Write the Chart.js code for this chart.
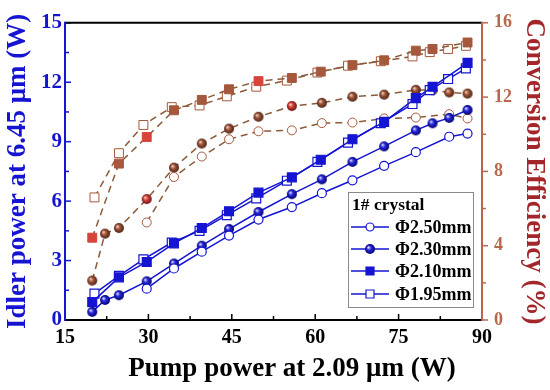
<!DOCTYPE html>
<html><head><meta charset="utf-8">
<script src="https://cdn.jsdelivr.net/npm/chart.js@4"></script>
<style>html,body{margin:0;padding:0;background:#fff}</style>
</head><body>
<canvas id="c" width="550" height="390"></canvas>
<script>
// ---- data ----
const seriesLabels = ['Φ2.50mm', 'Φ2.30mm', 'Φ2.10mm', 'Φ1.95mm'];
const legendTitle = '1# crystal';
const xTicks = [15, 30, 45, 60, 75, 90];
const yTicks = [0, 3, 6, 9, 12, 15];
const y2Ticks = [0, 4, 8, 12, 16];

const pump250 = [29.7, 34.6, 39.6, 44.5, 49.8, 55.8, 61.2, 66.7, 72.4, 78.1, 84.1, 87.4];
const idler250 = [1.58, 2.6, 3.45, 4.26, 5.07, 5.7, 6.4, 7.05, 7.78, 8.47, 9.25, 9.41];
const eff250 = [5.25, 7.7, 8.8, 9.73, 10.16, 10.21, 10.6, 10.63, 10.85, 10.9, 11.08, 10.85];

const pump230 = [19.9, 22.2, 24.7, 29.7, 34.6, 39.6, 44.5, 49.8, 55.8, 61.2, 66.7, 72.4, 78.1, 81.1, 84.1, 87.4];
const idler230 = [0.41, 1.01, 1.25, 1.95, 2.85, 3.75, 4.59, 5.45, 6.35, 7.1, 7.98, 8.76, 9.57, 9.93, 10.2, 10.6];
const eff230 = [2.12, 4.65, 4.95, 6.51, 8.2, 9.5, 10.3, 10.94, 11.52, 11.69, 12.02, 12.13, 12.39, 12.37, 12.25, 12.19];

const pump210 = [19.9, 24.7, 29.7, 34.6, 39.6, 44.5, 49.8, 55.8, 61.0, 66.7, 72.4, 78.1, 81.1, 87.4];
const idler210 = [0.9, 2.15, 2.93, 3.87, 4.64, 5.49, 6.43, 7.2, 8.09, 9.12, 10.0, 11.2, 11.77, 12.98];
const eff210 = [4.43, 8.42, 9.85, 11.29, 11.85, 12.42, 12.86, 13.03, 13.37, 13.72, 13.98, 14.5, 14.59, 14.94];

const pump195 = [20.3, 24.7, 29.1, 34.2, 39.2, 44.1, 49.4, 54.9, 60.4, 65.9, 71.8, 77.5, 80.6, 83.9, 87.1];
const idler195 = [1.33, 2.23, 3.06, 3.91, 4.5, 5.29, 6.14, 7.03, 7.98, 8.95, 9.93, 10.9, 11.6, 12.16, 12.7];
const eff195 = [6.6, 8.98, 10.5, 11.46, 11.55, 12.04, 12.56, 12.89, 13.32, 13.69, 13.93, 14.19, 14.42, 14.59, 14.76];

// ---- styles ----
const BLUE = '#1414d2';
const BROWN = '#a5583c';
const RED = '#d9443a';
const DASH = '#8a5a3a';
const AXR = '#b8674c';
const SERIF = "'Liberation Serif','Times New Roman',serif";

function sphere(r, light, base, dark) {
  const s = 2 * r + 2;
  const c = document.createElement('canvas');
  c.width = c.height = s;
  const g = c.getContext('2d');
  const cx = s / 2, cy = s / 2;
  const gr = g.createRadialGradient(cx - r * 0.35, cy - r * 0.35, r * 0.05, cx, cy, r);
  gr.addColorStop(0, light);
  gr.addColorStop(0.4, base);
  gr.addColorStop(1, dark);
  g.fillStyle = gr;
  g.beginPath(); g.arc(cx, cy, r, 0, Math.PI * 2); g.fill();
  return c;
}
const blueSphere = sphere(5, '#e8e8ff', '#2a2ae0', '#00006a');
const brownSphere = sphere(5, '#f2d8c8', '#a5583c', '#4a2010');
const redSphere = sphere(5, '#ffd8d0', '#d9443a', '#6a1010');

const pts = (xs, ys) => xs.map((x, i) => ({ x: x, y: ys[i] }));

function idlerDs(label, xs, ys, style, fill, r) {
  return { label, data: pts(xs, ys), yAxisID: 'y', borderColor: BLUE, borderWidth: 1.5,
    pointStyle: style, pointRadius: r, pointBorderColor: BLUE, pointBorderWidth: 1.2,
    pointBackgroundColor: fill, tension: 0, order: 1 };
}
function effDs(label, xs, ys, style, fill, r) {
  return { label, data: pts(xs, ys), yAxisID: 'y2', borderColor: DASH, borderWidth: 1.5,
    borderDash: [7, 5], pointStyle: style, pointRadius: r, pointBorderColor: BROWN,
    pointBorderWidth: 1, pointBackgroundColor: fill, tension: 0, order: 2 };
}

const effSq210Fill = pump210.map((_, i) => [0, 2, 6].includes(i) ? RED : BROWN);
const effSph230Style = pump230.map((_, i) => [3, 8].includes(i) ? redSphere : brownSphere);

const datasets = [
  idlerDs(seriesLabels[0], pump250, idler250, 'circle', '#fff', 4.5),
  idlerDs(seriesLabels[1], pump230, idler230, blueSphere, BLUE, 5),
  idlerDs(seriesLabels[2], pump210, idler210, 'rect', BLUE, 6.3),
  idlerDs(seriesLabels[3], pump195, idler195, 'rect', '#fff', 6.3),
  effDs('eff ' + seriesLabels[0], pump250, eff250, 'circle', '#fff', 4.5),
  effDs('eff ' + seriesLabels[1], pump230, eff230, effSph230Style, BROWN, 5),
  effDs('eff ' + seriesLabels[2], pump210, eff210, 'rect', effSq210Fill, 6.3),
  effDs('eff ' + seriesLabels[3], pump195, eff195, 'rect', '#fff', 6.3)
];
datasets[6].pointBorderColor = effSq210Fill;

const framePlugin = {
  id: 'frame',
  afterDatasetsDraw(chart) {
    const { ctx, chartArea: a, scales } = chart;
    ctx.save();
    ctx.lineWidth = 1.5;
    // x ticks (inward)
    ctx.strokeStyle = '#000';
    const xs = scales.x;
    for (let v = 15; v <= 90; v += 7.5) {
      const px = xs.getPixelForValue(v);
      const len = (v % 15 === 0) ? 6 : 4;
      ctx.beginPath(); ctx.moveTo(px, a.bottom); ctx.lineTo(px, a.bottom - len); ctx.stroke();
    }
    // left y ticks (inward)
    ctx.strokeStyle = BLUE;
    for (let v = 0; v <= 15; v += 1.5) {
      const py = scales.y.getPixelForValue(v);
      const len = (v % 3 === 0) ? 6 : 4;
      ctx.beginPath(); ctx.moveTo(a.left, py); ctx.lineTo(a.left + len, py); ctx.stroke();
    }
    // right y ticks (outward)
    ctx.strokeStyle = AXR;
    for (let v = 0; v <= 16; v += 2) {
      const py = scales.y2.getPixelForValue(v);
      const len = (v % 4 === 0) ? 6 : 4;
      ctx.beginPath(); ctx.moveTo(a.right, py); ctx.lineTo(a.right + len, py); ctx.stroke();
    }
    // frame
    ctx.lineWidth = 2;
    ctx.strokeStyle = '#000';
    ctx.beginPath(); ctx.moveTo(a.left, a.top); ctx.lineTo(a.right, a.top); ctx.stroke();
    ctx.beginPath(); ctx.moveTo(a.left, a.bottom); ctx.lineTo(a.right, a.bottom); ctx.stroke();
    ctx.strokeStyle = BLUE;
    ctx.beginPath(); ctx.moveTo(a.left, a.top - 1); ctx.lineTo(a.left, a.bottom + 1); ctx.stroke();
    ctx.strokeStyle = AXR;
    ctx.beginPath(); ctx.moveTo(a.right, a.top - 1); ctx.lineTo(a.right, a.bottom + 1); ctx.stroke();

    // x title
    ctx.fillStyle = '#000';
    ctx.font = 'bold 27px ' + SERIF;
    ctx.textAlign = 'center'; ctx.textBaseline = 'middle';
    ctx.fillText('Pump power at 2.09 μm (W)', 292, 369);

    // legend
    const L = { x: 348, y: 192, w: 125, h: 115 };
    ctx.fillStyle = '#fff';
    ctx.fillRect(L.x, L.y, L.w, L.h);
    ctx.strokeStyle = '#8a8a8a'; ctx.lineWidth = 1;
    ctx.strokeRect(L.x + 0.5, L.y + 0.5, L.w, L.h);
    ctx.fillStyle = '#000';
    ctx.textAlign = 'left';
    ctx.font = 'bold 17.5px ' + SERIF;
    ctx.fillText(legendTitle, 352, 205);
    ctx.font = 'bold 18px ' + SERIF;
    const rowsY = [227, 249, 271, 294];
    for (let i = 0; i < 4; i++) {
      const ds = chart.data.datasets[i];
      const yy = rowsY[i];
      ctx.strokeStyle = BLUE; ctx.lineWidth = 1.5;
      ctx.beginPath(); ctx.moveTo(351, yy); ctx.lineTo(389, yy); ctx.stroke();
      const st = ds.pointStyle;
      if (st instanceof HTMLCanvasElement) {
        ctx.drawImage(st, 370 - st.width / 2, yy - st.height / 2);
      } else {
        ctx.fillStyle = ds.pointBackgroundColor; ctx.strokeStyle = BLUE; ctx.lineWidth = 1.2;
        ctx.beginPath();
        if (st === 'circle') ctx.arc(370, yy, 4, 0, Math.PI * 2);
        else ctx.rect(366, yy - 4, 8, 8);
        ctx.fill(); ctx.stroke();
      }
      ctx.fillStyle = '#000';
      ctx.fillText(ds.label, 395, yy + 1);
    }
    ctx.restore();
  }
};

new Chart(document.getElementById('c'), {
  type: 'line',
  data: { datasets },
  options: {
    responsive: false,
    animation: false,
    layout: { padding: { top: 13, left: 0, right: 0, bottom: 0 } },
    plugins: { legend: { display: false }, tooltip: { enabled: false } },
    scales: {
      x: {
        type: 'linear', min: 15, max: 90,
        afterBuildTicks: s => { s.ticks = xTicks.map(v => ({ value: v })); },
        afterFit: s => { s.height = 70; },
        grid: { display: false, drawTicks: false },
        border: { display: false },
        ticks: { color: '#000', font: { family: SERIF, size: 20, weight: 'bold' }, padding: 6, maxRotation: 0, autoSkip: false },
        title: { display: false }
      },
      y: {
        type: 'linear', position: 'left', min: 0, max: 15,
        afterBuildTicks: s => { s.ticks = yTicks.map(v => ({ value: v })); },
        afterFit: s => { s.width = 65; },
        grid: { display: false, drawTicks: false },
        border: { display: false },
        ticks: { color: BLUE, font: { family: SERIF, size: 21, weight: 'bold' }, padding: 3, autoSkip: false },
        title: { display: true, text: 'Idler power at 6.45 μm (W)', color: BLUE,
          font: { family: SERIF, size: 27, weight: 'bold' }, padding: { top: 2, bottom: 0 } }
      },
      y2: {
        type: 'linear', position: 'right', min: 0, max: 16,
        afterBuildTicks: s => { s.ticks = y2Ticks.map(v => ({ value: v })); },
        afterFit: s => { s.width = 68; },
        grid: { display: false, drawTicks: false },
        border: { display: false },
        ticks: { color: AXR, font: { family: SERIF, size: 18, weight: 'bold' }, padding: 12, autoSkip: false },
        title: { display: true, text: 'Conversion Efficiency (%)', color: '#a3272a',
          font: { family: SERIF, size: 27, weight: 'bold' }, padding: { top: 0, bottom: 0 } }
      }
    }
  },
  plugins: [framePlugin]
});
</script>
</body></html>
